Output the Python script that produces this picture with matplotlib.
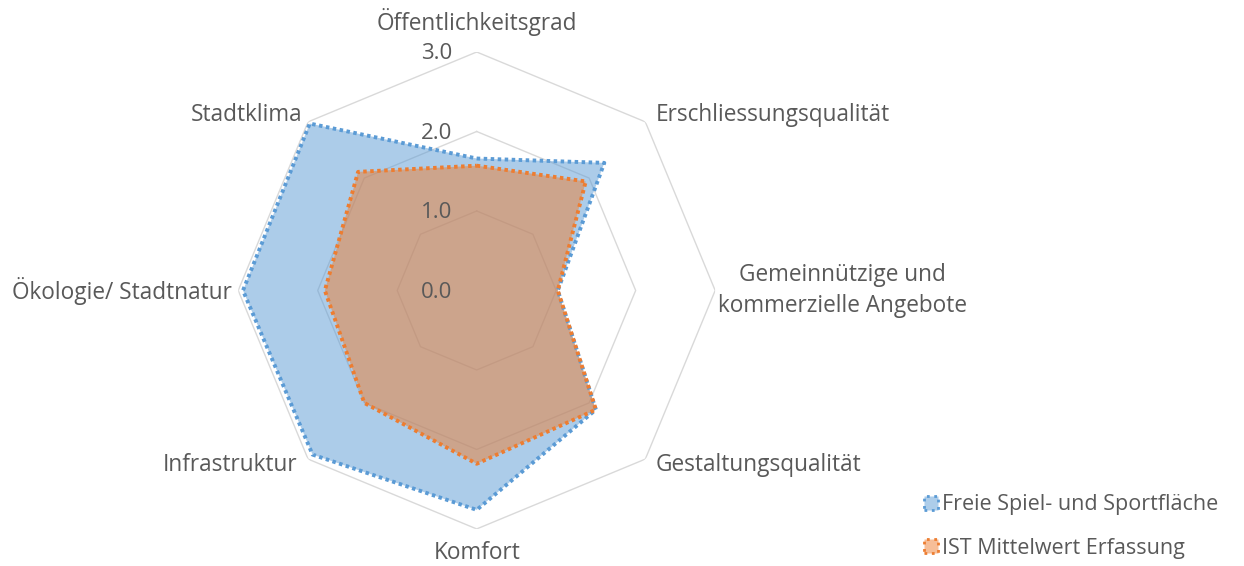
import numpy as np
import matplotlib.pyplot as plt
from matplotlib.patches import Patch

plt.rcParams['font.family'] = ['Open Sans', 'DejaVu Sans']

kategorien = ['Öffentlichkeitsgrad', 'Erschliessungsqualität',
              'Gemeinnützige und\nkommerzielle Angebote', 'Gestaltungsqualität',
              'Komfort', 'Infrastruktur', 'Ökologie/ Stadtnatur', 'Stadtklima']
freie_flaeche = [1.66, 2.27, 1.02, 2.12, 2.76, 2.92, 2.94, 2.97]
ist_mittelwert = [1.57, 1.94, 1.02, 2.12, 2.18, 2.0, 1.91, 2.11]
ringe = [0.0, 1.0, 2.0, 3.0]
ring_labels = ['0.0', '1.0', '2.0', '3.0']
serien_namen = ['Freie Spiel- und Sportfläche', 'IST Mittelwert Erfassung']

grau = '#595959'
blau = '#5B9BD5'
orange = '#ED7D31'

n = len(kategorien)
winkel = np.linspace(0, 2 * np.pi, n, endpoint=False)
winkel_zu = np.append(winkel, winkel[0])

fig = plt.figure(figsize=(12.44, 5.66), dpi=100)
ax = fig.add_axes([0.1915, 0.0654, 0.3834, 0.8428], projection='polar')
ax.set_theta_offset(np.pi / 2)
ax.set_theta_direction(-1)
ax.set_ylim(0, 3)
ax.grid(False)
ax.spines['polar'].set_visible(False)
ax.set_xticks([])
ax.set_yticks([])
ax.patch.set_alpha(0)

# Gitter als Achtecke
for r in ringe[1:]:
    ax.plot(winkel_zu, [r] * (n + 1), color='#D9D9D9', lw=1, zorder=1)

for werte, farbe in [(freie_flaeche, blau), (ist_mittelwert, orange)]:
    w = np.append(werte, werte[0])
    ax.fill(winkel_zu, w, color=farbe, alpha=0.5, lw=0, zorder=2)
for werte, farbe in [(freie_flaeche, blau), (ist_mittelwert, orange)]:
    w = np.append(werte, werte[0])
    ax.plot(winkel_zu, w, color=farbe, lw=2.8, ls=(0, (0.9, 0.9)), zorder=3)

for r, t in zip(ringe, ring_labels):
    ax.annotate(t, xy=(0, r), xytext=(-24, -2), textcoords='offset pixels',
                ha='right', va='center', fontsize=16, color=grau)

offsets = [(0, 30, 'center'), (10, 7, 'left'), (3, 0, 'left'), (10, -6, 'left'),
           (0, -24, 'center'), (-11, -6, 'right'), (-6, -1, 'right'), (-6, 7, 'right')]
for k, th, (dx, dy, ha) in zip(kategorien, winkel, offsets):
    ax.annotate(k, xy=(th, 3.0), xytext=(dx, dy), textcoords='offset pixels',
                ha=ha, va='center', multialignment='center',
                fontsize=16.3, color=grau, linespacing=1.35)

handles = [Patch(facecolor='#ADCDEA', edgecolor=blau, ls=':', lw=2),
           Patch(facecolor='#F6BE98', edgecolor=orange, ls=':', lw=2)]
fig.legend(handles, serien_namen, loc='upper left', bbox_to_anchor=(0.727, 0.161),
           frameon=False, handlelength=0.65, handleheight=0.65, handletextpad=0.2,
           labelspacing=1.05, fontsize=15.5, labelcolor=grau)

fig.savefig('out.png', dpi=100)
